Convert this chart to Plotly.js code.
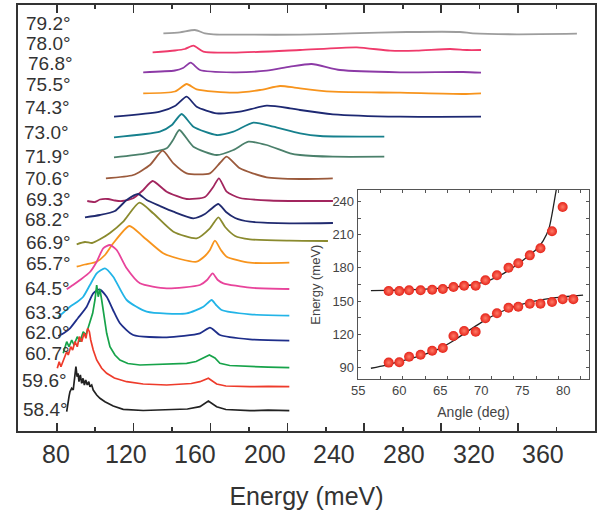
<!DOCTYPE html>
<html>
<head>
<meta charset="utf-8">
<script src="https://cdn.plot.ly/plotly-3.0.1.min.js"></script>
<style>
  html, body { margin: 0; padding: 0; background: #fff; }
  #chart { width: 610px; height: 519px; }
</style>
</head>
<body>
<div id="chart"></div>
<script>
// Incidence angles of the stacked spectra (top to bottom)
const ANGLES = [79.2, 78.0, 76.8, 75.5, 74.3, 73.0, 71.9, 70.6, 69.3, 68.2, 66.9, 65.7, 64.5, 63.3, 62.0, 60.7, 59.6, 58.4];

// Spectra: energy (meV) and vertically offset intensity (a.u.)
const e792 = [135.5, 144.1, 151.9, 157.1, 161.5, 180.5, 206.6, 232.6, 262.2, 289.8, 296.5, 319.4, 350.6];
const i792 = [397.7, 398.7, 401, 397.7, 396.7, 396.3, 396.3, 397.7, 399, 399, 397.7, 396.7, 397.3];

const e780 = [129.9, 141.5, 146.7, 151.1, 156.3, 171.7, 206.6, 236.1, 253.4, 267.3, 284.6, 293.3, 300.7];
const i780 = [378.7, 380.5, 382, 385.3, 379.3, 378.3, 381, 383.7, 380.3, 380.3, 382, 381, 381];

const e768 = [125.0, 141.5, 145.7, 149.7, 154.5, 171.7, 189.2, 201.4, 212.6, 227.4, 258.6, 291.3, 300.7];
const i768 = [358.7, 360.5, 363, 368.3, 361, 358.7, 360.3, 364.3, 367, 361, 358.7, 359, 358.3];

const e755 = [125.0, 141.5, 147.6, 152.8, 171.9, 185.7, 196.2, 203.1, 206.6, 223.7, 258.6, 291.3, 300.7];
const i755 = [337.7, 339.5, 347, 341.7, 338.3, 341, 345, 343.7, 342.7, 339.3, 338.3, 337, 337.7];

const e743 = [109.8, 133.7, 141.5, 147.6, 152.8, 163.2, 175.3, 189.2, 201.4, 206.6, 223.7, 258.6, 300.7];
const i743 = [314.3, 319.3, 325, 334.3, 324.3, 317.7, 319.3, 325.3, 322.7, 321, 316.7, 314.3, 314.3];

const e730 = [109.8, 133.7, 139.9, 145.0, 151.1, 163.2, 171.9, 182.3, 192.7, 206.6, 217.0, 250.4];
const i730 = [293.7, 299.3, 306, 317, 304.3, 296, 299.3, 308.3, 304.3, 297.7, 295, 294.3];

const e719 = [109.8, 126.8, 137.2, 140.5, 143.8, 151.1, 163.2, 171.9, 179.7, 189.2, 201.4, 206.6, 223.7, 250.4];
const i719 = [273.7, 277.7, 282.7, 291, 301, 284.3, 276, 281, 289.3, 286, 277.7, 276, 274.3, 274.3];

const e706 = [105.6, 119.8, 128.5, 135.1, 140.7, 147.6, 159.7, 164.9, 168.4, 175.3, 189.2, 206.6, 223.6];
const i706 = [252.7, 256, 266, 280.3, 267.7, 257.7, 257.7, 268, 274.3, 262.7, 253.7, 252, 252.7];

const e693 = [95.9, 99.9, 102.5, 106.7, 110.3, 114.0, 119.8, 125.0, 129.9, 137.2, 147.6, 157.1, 161.5, 164.4, 168.4, 175.3, 190.7, 206.6, 223.7];
const i693 = [230, 229, 231.5, 232, 230.5, 230, 232.7, 241, 250, 239.3, 232, 234, 244.3, 252.7, 239.3, 233, 230.5, 230, 230];

const e682 = [94.7, 102.5, 110.3, 116.4, 122.4, 126.8, 133.7, 140.7, 151.1, 157.1, 159.7, 164.1, 168.1, 172.8, 180.5, 201.0, 223.7];
const i682 = [213.7, 216, 220, 231, 237, 231, 225, 219.3, 212.7, 217, 221, 227, 219, 213, 209.3, 207.7, 208];

const e669 = [90.4, 94.7, 98.4, 102.5, 107.7, 114.6, 123.0, 130.2, 140.7, 152.8, 159.7, 164.1, 167.6, 172.8, 180.5, 201.0, 221.1];
const i669 = [186.7, 189, 188, 191.7, 198, 209.3, 228.3, 217.7, 199.3, 192.7, 202.7, 213.7, 204, 195, 191.7, 190.3, 190];

const e657 = [90.4, 94.7, 100.8, 105.1, 109.4, 117.8, 125.0, 135.4, 144.1, 152.8, 157.1, 159.7, 162.3, 165.4, 168.4, 180.5, 201.0];
const i657 = [164.3, 166.5, 169.3, 176, 187.7, 205, 194.3, 177.7, 172, 169.3, 175, 181, 190.3, 181, 174.3, 168.3, 168.3];

const e645 = [85.2, 88.5, 92.1, 97.3, 100.8, 104.2, 107.7, 111.2, 116.4, 123.3, 137.2, 154.5, 158.2, 161.1, 163.8, 166.7, 180.5, 201.0];
const i645 = [141.7, 146, 151, 159, 169.3, 182.7, 186, 181, 162.7, 147.7, 142.7, 146, 151, 157.7, 151, 147.7, 143.3, 142];

const e633 = [80.8, 83.8, 86.9, 90.6, 93.8, 97.3, 100.8, 105.1, 109.4, 116.4, 126.8, 147.6, 156.3, 160.6, 162.9, 165.8, 180.5, 201.0];
const i633 = [114.3, 119, 124.3, 129, 134.3, 146, 157.7, 162.7, 154.3, 131, 119.3, 117.7, 124.3, 131, 126, 121, 116.7, 115.3];

const e620 = [80.8, 83.8, 86.9, 91.1, 95.6, 99.0, 102.2, 106.0, 109.3, 112.9, 119.8, 137.2, 154.5, 159.7, 162.3, 164.9, 180.5, 201.0];
const i620 = [95, 98, 102.7, 113, 124.3, 137.7, 141.7, 134.3, 121, 107.7, 96, 93.7, 97.7, 103.3, 100, 96, 91.7, 90.3];

const e607 = [83.4, 84.3, 85.2, 86.4, 87.8, 89.0, 90.7, 92.1, 93.8, 95.2, 96.4, 97.7, 98.7, 99.9, 100.8, 101.6, 102.5, 103.4, 104.6, 106.0, 107.7, 110.3, 112.9, 117.0, 123.3, 135.0, 147.6, 152.5, 156.3, 159.4, 162.3, 164.9, 170.0, 180.5, 190.0, 201.0];
const i607 = [77.7, 84.3, 89.3, 84.3, 91, 86, 94.3, 89.3, 99.3, 96, 104.3, 111, 117.7, 131, 146, 134.3, 141.7, 131, 114.3, 97.7, 84.3, 76, 71, 67.5, 66, 66.5, 67.7, 69.5, 72.7, 76, 73, 67.7, 65.5, 64.3, 63.8, 63.3];

const e596 = [80.3, 81.3, 82.2, 83.4, 84.3, 85.2, 86.0, 87.3, 88.3, 89.5, 90.7, 91.8, 93.0, 94.2, 95.2, 96.1, 97.0, 97.7, 99.0, 100.8, 103.4, 106.0, 110.0, 116.4, 125.0, 137.2, 150.0, 154.5, 158.9, 163.2, 168.0, 180.5, 190.0, 201.0];
const i596 = [62.7, 69.3, 64.3, 71, 74.3, 79.3, 76, 84.3, 81, 89.3, 84.3, 94.3, 89.3, 97.7, 92.7, 102.7, 99.3, 91, 81, 71, 62.7, 57.7, 53, 49.3, 47, 46, 47.5, 49.3, 52.7, 47, 45, 44.3, 44.6, 44.3];

const e584 = [85.2, 85.7, 86.4, 86.9, 87.8, 88.6, 89.5, 90.0, 90.6, 91.1, 91.6, 92.3, 93.0, 93.7, 94.4, 95.1, 95.9, 96.7, 97.3, 98.2, 99.0, 100.8, 102.5, 105.1, 109.4, 114.6, 125.0, 137.2, 148.0, 154.5, 158.9, 163.2, 168.0, 180.5, 190.0, 201.0];
const i584 = [19.3, 27.7, 34.3, 39.3, 42.7, 41, 54.3, 64.3, 54.3, 57.7, 49.3, 56, 47.7, 52.7, 46, 51, 46, 49.3, 44.3, 46, 41, 36, 32.7, 29.3, 25, 21.7, 20.5, 21, 22, 24.3, 30, 24.3, 21.5, 20.3, 20.8, 20.3];

// Main axis tick labels (meV)
const energyTickLabels = [80, 120, 160, 200, 240, 280, 320, 360];

// Inset: polariton branch energies vs angle
const angleLower = [58.4, 59.6, 60.7, 62.0, 63.3, 64.5, 65.7, 66.9, 68.2, 69.3, 70.6, 71.9, 73.0, 74.3, 75.5, 76.8, 78.0, 79.2];
const energyLower = [94.2, 94.5, 99.6, 101.4, 105.0, 107.5, 118.4, 122.9, 122.2, 134.4, 138.9, 144.0, 144.9, 147.6, 147.6, 149.1, 151.6, 151.6];
const angleUpper = [58.4, 59.6, 60.7, 62.0, 63.3, 64.5, 65.7, 66.9, 68.2, 69.3, 70.6, 71.9, 73.0, 74.3, 75.5, 76.8, 78.0];
const energyUpper = [159.1, 159.1, 159.7, 159.7, 160.3, 160.9, 162.7, 163.9, 163.9, 168.8, 173.3, 180.2, 184.2, 191.4, 197.8, 213.2, 235.2];

// Inset: model curves
const fitUpperAngle = [56.4, 58, 60, 62, 64, 66, 67.5, 69, 70, 71, 72, 73, 74, 75, 75.8, 76.5, 77.2, 77.5];
const fitUpperEnergy = [159.4, 159.6, 160.0, 160.6, 161.5, 162.8, 164.3, 166.8, 169.6, 173.4, 178.2, 183.8, 190, 196.5, 204.5, 217, 247, 262];
const fitLowerAngle = [56.4, 58, 60, 62, 64, 65.7, 66.9, 68.1, 69.2, 70.6, 71.9, 73, 74.2, 75.4, 76.8, 78, 79, 80.3];
const fitLowerEnergy = [89.1, 91.8, 96, 100.5, 106.5, 114, 120.5, 126.8, 132.5, 138.5, 143, 146, 148.8, 150.8, 152.6, 153.7, 154.5, 155.3];

// Inset tick labels
const angleTickLabels = [55, 60, 65, 70, 75, 80];

// ---- styling ----
const COLORS = ['#9d9d9d', '#ef3a6b', '#8c3aa6', '#f7941d', '#1d2872', '#16808d', '#4b806b', '#9b5a3c',
                '#a2255e', '#202a6f', '#8a8a2e', '#f7941d', '#e8449b', '#22b4e7', '#1e2e8a', '#17a34a', '#ee3b2b', '#222222'];
const SPECTRA = [
  [e792, i792], [e780, i780], [e768, i768], [e755, i755], [e743, i743], [e730, i730],
  [e719, i719], [e706, i706], [e693, i693], [e682, i682], [e669, i669], [e657, i657],
  [e645, i645], [e633, i633], [e620, i620], [e607, i607], [e596, i596], [e584, i584]
];
// the three lowest spectra are noisy: draw them straight segment to segment
const NOISY = [false, false, false, false, false, false, false, false, false, false, false, false, false, false, false, true, true, true];
// label placement (left edge px, vertical position in intensity units)
const labelLeftPx = [24, 24, 26, 24, 23, 22, 23, 23, 24, 23, 24, 24, 23, 23, 23, 23, 20, 21];
const labelY = [408, 388, 368, 347, 324, 299, 275, 253, 232, 212, 189, 168, 143, 119, 99, 78, 51, 22];

const M = { l: 18, r: 15, t: 5, b: 88 };
const W = 610, H = 519;
const plotW = W - M.l - M.r;
const plotH = H - M.t - M.b;
const pxToPaperX = px => (px - M.l) / plotW;
const pxToPaperY = py => (H - M.b - py) / plotH;

const FONT = 'Liberation Sans, Arial, Helvetica, sans-serif';
const traces = [];

SPECTRA.forEach(([e, i], k) => {
  traces.push({
    type: 'scatter', mode: 'lines', x: e, y: i, xaxis: 'x', yaxis: 'y',
    line: NOISY[k]
      ? { color: COLORS[k], width: 1.7, shape: 'linear' }
      : { color: COLORS[k], width: 1.8, shape: 'spline', smoothing: 0.6 },
    hoverinfo: 'skip'
  });
});

// inset model lines
traces.push({
  type: 'scatter', mode: 'lines', x: fitUpperAngle, y: fitUpperEnergy, xaxis: 'x2', yaxis: 'y2',
  line: { color: '#222', width: 1.3, shape: 'spline', smoothing: 0.6 }, hoverinfo: 'skip'
});
traces.push({
  type: 'scatter', mode: 'lines', x: fitLowerAngle, y: fitLowerEnergy, xaxis: 'x2', yaxis: 'y2',
  line: { color: '#222', width: 1.3, shape: 'spline', smoothing: 0.6 }, hoverinfo: 'skip'
});
// inset data spheres
const sphere = () => ({
  size: 10, color: '#e5241a',
  gradient: { type: 'radial', color: '#ff7a66' },
  line: { width: 0 }
});
traces.push({
  type: 'scatter', mode: 'markers', x: angleUpper, y: energyUpper, xaxis: 'x2', yaxis: 'y2',
  marker: sphere(), hoverinfo: 'skip', cliponaxis: false
});
traces.push({
  type: 'scatter', mode: 'markers', x: angleLower, y: energyLower, xaxis: 'x2', yaxis: 'y2',
  marker: sphere(), hoverinfo: 'skip', cliponaxis: false
});

// angle labels beside each spectrum
const annotations = ANGLES.map((a, k) => ({
  xref: 'paper', yref: 'y',
  x: pxToPaperX(labelLeftPx[k]), y: labelY[k],
  xanchor: 'left', yanchor: 'middle',
  text: a.toFixed(1) + '°', showarrow: false,
  font: { family: FONT, size: 19, color: '#333' }
}));

// numeric scale labels: the printed scales are spaced wider than the tick marks
// main energy scale: 80 sits at 56 px, 40 meV per 69.6 px
energyTickLabels.forEach(v => annotations.push({
  xref: 'paper', yref: 'paper',
  x: pxToPaperX(56 + (v - 80) * 69.6 / 40), y: pxToPaperY(453.5),
  xanchor: 'center', yanchor: 'middle', showarrow: false,
  text: String(v), font: { family: FONT, size: 25, color: '#333' }
}));
// inset angle scale: 55 sits at 358.3 px, 5 deg per 40.9 px
angleTickLabels.forEach(v => annotations.push({
  xref: 'paper', yref: 'paper',
  x: pxToPaperX(358.3 + (v - 55) * 40.9 / 5), y: pxToPaperY(390),
  xanchor: 'center', yanchor: 'middle', showarrow: false,
  text: String(v), font: { family: FONT, size: 13, color: '#444' }
}));

const insetDomX = [0.5887, 0.9901];
const insetDomY = [0.1214, 0.5657];

const layout = {
  width: W, height: H, margin: M,
  paper_bgcolor: '#fff', plot_bgcolor: '#fff',
  showlegend: false,
  font: { family: FONT, color: '#333' },
  // main energy axis: frame, tick marks and title
  xaxis: {
    domain: [0, 1], anchor: 'y', range: [59.87, 360],
    showline: true, linecolor: '#333', linewidth: 2, mirror: 'ticks',
    ticks: 'inside', tickmode: 'linear', tick0: 80, dtick: 40, ticklen: 8, tickwidth: 1.6, tickcolor: '#333',
    minor: { ticks: 'inside', dtick: 20, tick0: 80, ticklen: 4, tickwidth: 1.6, tickcolor: '#333' },
    showticklabels: false, showgrid: false, zeroline: false,
    title: { text: 'Energy (meV)', font: { family: FONT, size: 25, color: '#333' }, standoff: 55 }
  },
  yaxis: {
    domain: [0, 1], anchor: 'x', range: [0, 426],
    showline: true, linecolor: '#333', linewidth: 2, mirror: true,
    ticks: '', showticklabels: false, showgrid: false, zeroline: false
  },
  // inset angle axis
  xaxis2: {
    domain: insetDomX, anchor: 'y2', range: [54.91, 81.0],
    showline: true, linecolor: '#555', linewidth: 1, mirror: 'ticks',
    ticks: 'inside', tickmode: 'linear', tick0: 55, dtick: 2.5, ticklen: 3, tickwidth: 1, tickcolor: '#555',
    showticklabels: false, showgrid: false, zeroline: false,
    title: { text: 'Angle (deg)', font: { family: FONT, size: 14, color: '#444' }, standoff: 27 }
  },
  // inset energy axis
  yaxis2: {
    domain: insetDomY, anchor: 'x2', range: [79.1, 250.6],
    showline: true, linecolor: '#555', linewidth: 1, mirror: 'ticks',
    ticks: 'inside', tickmode: 'linear', tick0: 90, dtick: 30, ticklen: 3, tickwidth: 1, tickcolor: '#555',
    minor: { ticks: 'inside', dtick: 15, ticklen: 3, tickwidth: 1, tickcolor: '#555' },
    tickfont: { family: FONT, size: 13, color: '#444' },
    showgrid: false, zeroline: false,
    title: { text: 'Energy (meV)', font: { family: FONT, size: 13, color: '#444' }, standoff: 8 }
  },
  annotations: annotations
};

Plotly.newPlot('chart', traces, layout, { displayModeBar: false, staticPlot: true });
</script>
</body>
</html>
